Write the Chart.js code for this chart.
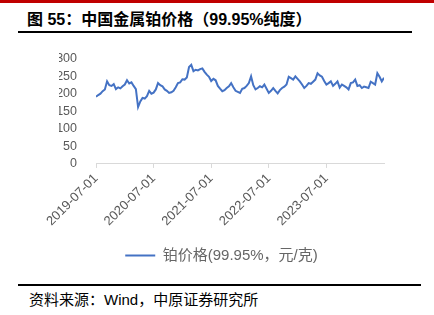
<!DOCTYPE html>
<html>
<head>
<meta charset="utf-8">
<script src="https://cdn.jsdelivr.net/npm/chart.js@4.4.1/dist/chart.umd.min.js"></script>
<style>
  html, body { margin: 0; padding: 0; background: #fff; }
  body { width: 434px; height: 315px; position: relative; overflow: hidden;
         font-family: "Liberation Sans", "Noto Sans CJK SC", sans-serif; }
  .topbar { position: absolute; left: 0; top: 0; width: 434px; height: 3px; background: #c00000; }
  .title { position: absolute; left: 27px; top: 10px; font-size: 16px; line-height: 20px; font-weight: bold; color: #000; white-space: nowrap; }
  .rule1 { position: absolute; left: 18px; top: 31px; width: 394px; height: 2px; background: #000; }
  .rule2 { position: absolute; left: 18px; top: 284px; width: 403px; height: 2px; background: #000; }
  .source { position: absolute; left: 29px; top: 290px; font-size: 15px; line-height: 20px; color: #000; white-space: nowrap; }
  .wrap { position: absolute; left: 0; top: 32px; width: 434px; height: 241px; }
</style>
</head>
<body>
<div class="topbar"></div>
<div class="title">图 55：中国金属铂价格（99.95%纯度）</div>
<div class="rule1"></div>
<div class="wrap"><canvas id="c"></canvas></div>
<div class="rule2"></div>
<div class="source">资料来源：Wind，中原证券研究所</div>
<script>
// biweekly samples, 2019-07 .. 2024-06 (yuan / gram)
var tickLabels = ['2019-07-01', '2020-07-01', '2021-07-01', '2022-07-01', '2023-07-01'];
var stepPerYear = 26;
var seriesName = '铂价格(99.95%，元/克)';
var prices = [
  191, 196, 200, 207, 212, 235, 224, 222, 227, 213, 218, 215, 221, 226, 238, 229, 232, 222, 213, 162, 178, 188, 186, 193, 208, 200,
  203, 212, 230, 224, 221, 212, 208, 202, 204, 208, 218, 230, 232, 241, 240, 246, 276, 282, 264, 268, 266, 270, 272, 262, 254, 248,
  236, 242, 238, 222, 214, 207, 210, 216, 221, 230, 218, 208, 205, 202, 214, 216, 222, 230, 249, 224, 212, 216, 221, 218, 226, 214,
  202, 208, 216, 208, 201, 210, 216, 220, 226, 248, 244, 240, 249, 242, 235, 226, 216, 222, 230, 228, 234, 240, 258, 252, 248, 236,
  226, 230, 235, 222, 228, 235, 217, 226, 222, 218, 212, 230, 232, 240, 222, 224, 216, 220, 218, 216, 234, 230, 226, 258, 248, 235, 245
];

var points = prices.map(function (v, i) { return { x: i, y: v }; });

new Chart(document.getElementById('c'), {
  type: 'line',
  data: {
    datasets: [{
      label: seriesName,
      data: points,
      borderColor: '#4472C4',
      backgroundColor: '#4472C4',
      borderWidth: 2,
      pointRadius: 0,
      tension: 0
    }]
  },
  options: {
    responsive: true,
    maintainAspectRatio: false,
    animation: false,
    layout: { padding: { left: 59, right: 50, top: 10, bottom: 0 } },
    plugins: {
      tooltip: { enabled: false },
      legend: {
        position: 'bottom',
        labels: {
          boxWidth: 30,
          boxHeight: 2,
          color: '#666666',
          font: { size: 15, family: '"Liberation Sans", "Noto Sans CJK SC", sans-serif' },
          padding: 10,
          generateLabels: function (chart) {
            var items = Chart.defaults.plugins.legend.labels.generateLabels(chart);
            items.forEach(function (it) { it.lineWidth = 0; });
            return items;
          }
        }
      }
    },
    scales: {
      x: {
        type: 'linear',
        min: 0,
        max: prices.length - 1,
        afterFit: function (s) { s.height += 6; s.paddingLeft = 0; },
        grid: { drawOnChartArea: false, drawTicks: true, tickLength: 4, color: '#d9d9d9' },
        border: { color: '#d9d9d9' },
        ticks: {
          stepSize: stepPerYear,
          autoSkip: false,
          minRotation: 45,
          maxRotation: 45,
          color: '#595959',
          font: { size: 13, family: '"Liberation Sans", sans-serif' },
          callback: function (v) {
            var lab = tickLabels[v / stepPerYear];
            return lab === undefined ? null : lab;
          }
        }
      },
      y: {
        min: 0,
        max: 300,
        afterFit: function (s) { s.width = 37; },
        grid: { display: false, drawTicks: false },
        border: { display: false },
        ticks: {
          stepSize: 50,
          autoSkip: false,
          padding: 19,
          color: '#595959',
          font: { size: 12.5, family: '"Liberation Sans", sans-serif' }
        }
      }
    }
  }
});
</script>
</body>
</html>
